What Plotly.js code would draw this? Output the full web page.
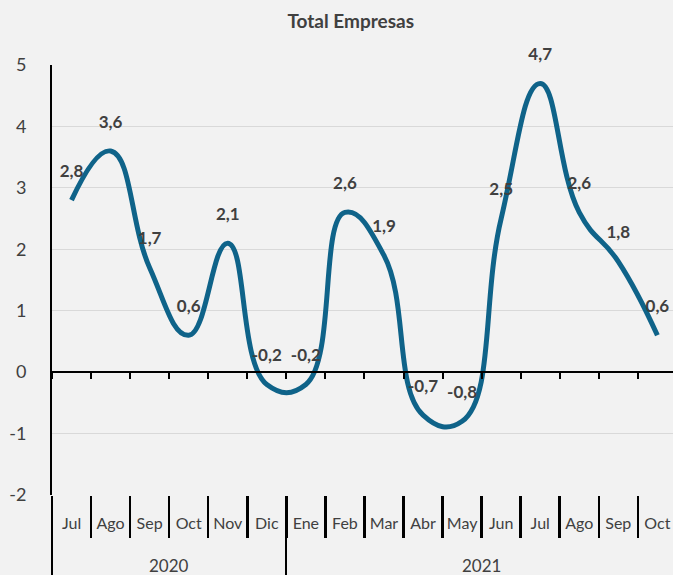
<!DOCTYPE html>
<html>
<head>
<meta charset="utf-8">
<script src="https://cdn.plot.ly/plotly-3.0.1.min.js"></script>
<style>html,body{margin:0;padding:0;background:#f2f2f2;}#chart{width:673px;height:575px;}</style>
</head>
<body>
<div id="chart"></div>
<script>
const years = ["2020","2020","2020","2020","2020","2020","2021","2021","2021","2021","2021","2021","2021","2021","2021","2021"];
const months = ["Jul","Ago","Sep","Oct","Nov","Dic","Ene","Feb","Mar","Abr","May","Jun","Jul","Ago","Sep","Oct"];
const values = [2.8, 3.6, 1.7, 0.6, 2.1, -0.2, -0.2, 2.6, 1.9, -0.7, -0.8, 2.5, 4.7, 2.6, 1.8, 0.6];
const yTickVals = [-2, -1, 0, 1, 2, 3, 4, 5];
const yTickText = ["-2", "-1", "0", "1", "2", "3", "4", "5"];

const labels = values.map(v => v.toFixed(1).replace('.', ','));
const idx = months.map((m, i) => i);

// year groups derived from the years array
const yearGroups = [];
years.forEach((y, i) => {
  const g = yearGroups[yearGroups.length - 1];
  if (g && g.year === y) g.end = i; else yearGroups.push({year: y, start: i, end: i});
});
const groupBounds = yearGroups.map(g => g.start - 0.5);
const monthBounds = idx.map(i => i - 0.5);

const yMin = -2, yMax = 5;
const xRange = [-0.5, 15.4];
const txt = '#404040';
const fontFam = 'Lato, "Open Sans", sans-serif';

const lineTrace = {
  x: idx, y: values, type: 'scatter', mode: 'lines+markers+text',
  line: {color: '#0f6389', width: 5, shape: 'spline', smoothing: 1.3},
  marker: {size: 29, opacity: 0},
  text: labels, textposition: 'top center',
  textfont: {family: fontFam, size: 17, color: txt, weight: 'bold'},
  hoverinfo: 'skip', cliponaxis: false
};
const dummy = ax => ({x: [], y: [], xaxis: ax, yaxis: 'y', type: 'scatter', mode: 'lines', hoverinfo: 'skip', showlegend: false});

const baseHidden = {overlaying: 'x', type: 'linear', range: xRange, showticklabels: false, showgrid: false, zeroline: false, showline: false};

const layout = {
  width: 673, height: 575,
  paper_bgcolor: '#f2f2f2', plot_bgcolor: '#f2f2f2',
  margin: {l: 52, r: 0, t: 65, b: 80},
  showlegend: false,
  title: {text: '<b>Total Empresas</b>', font: {family: fontFam, size: 19, color: txt},
          xref: 'paper', x: 0.481, xanchor: 'center', yref: 'container', y: 0.963, yanchor: 'middle'},
  xaxis: {
    type: 'linear', range: xRange, showgrid: false, showline: false, zeroline: false,
    tickmode: 'array', tickvals: idx, ticktext: months, ticks: '', ticklabelstandoff: 17,
    tickfont: {family: fontFam, size: 16, color: txt}
  },
  xaxis2: Object.assign({}, baseHidden, {
    anchor: 'free', position: (0 - yMin) / (yMax - yMin), side: 'bottom',
    tickmode: 'array', tickvals: monthBounds, ticks: 'outside', ticklen: 6,
    tickcolor: '#000', tickwidth: 2, showline: true, linecolor: '#000', linewidth: 2
  }),
  xaxis3: Object.assign({}, baseHidden, {
    anchor: 'y', side: 'bottom', tickmode: 'array', tickvals: monthBounds,
    ticks: 'outside', ticklen: 42, tickcolor: '#000000', tickwidth: 2.5
  }),
  xaxis4: Object.assign({}, baseHidden, {
    anchor: 'y', side: 'bottom', tickmode: 'array', tickvals: groupBounds,
    ticks: 'outside', ticklen: 82, tickcolor: '#000000', tickwidth: 2
  }),
  yaxis: {
    range: [yMin, yMax], tickmode: 'array', tickvals: yTickVals, ticktext: yTickText,
    showgrid: true, gridcolor: '#d9d9d9', gridwidth: 1.2,
    zeroline: false, showline: true, linecolor: '#000', linewidth: 2, ticks: '',
    ticklabelstandoff: 20,
    tickfont: {family: fontFam, size: 18, color: txt}
  },
  annotations: yearGroups.map(g => ({
    xref: 'x', yref: 'paper', x: (g.start + g.end) / 2, y: -0.163, yanchor: 'middle',
    text: g.year, showarrow: false, font: {family: fontFam, size: 17, color: txt}
  }))
};

Plotly.newPlot('chart', [lineTrace, dummy('x2'), dummy('x3'), dummy('x4')], layout, {displayModeBar: false, staticPlot: true});
</script>
</body>
</html>
